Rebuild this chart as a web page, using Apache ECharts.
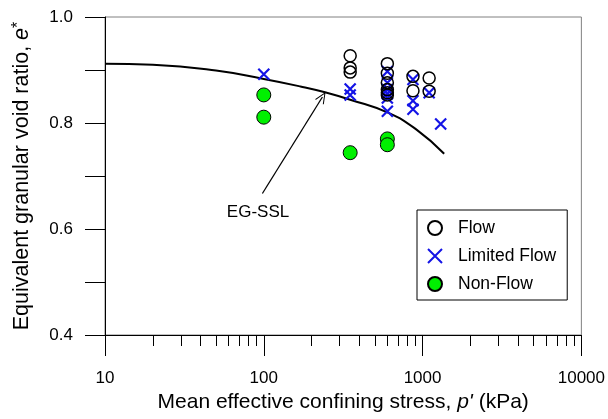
<!DOCTYPE html>
<html>
<head>
<meta charset="utf-8">
<script src="https://cdn.jsdelivr.net/npm/echarts@6/dist/echarts.min.js"></script>
<style>
html, body { margin: 0; padding: 0; background: #fff; }
#chart { width: 608px; height: 419px; }
</style>
</head>
<body>
<div id="chart"></div>
<script>
// values
const flowP = [350, 350, 350, 600, 600, 600, 600, 600, 600, 870, 870, 1100, 1100];
const flowE = [0.927, 0.904, 0.896, 0.912, 0.894, 0.876, 0.863, 0.857, 0.853, 0.888, 0.861, 0.885, 0.860];
const limitedP = [100, 350, 350, 600, 600, 600, 600, 600, 600, 870, 870, 870, 1100, 1300];
const limitedE = [0.892, 0.864, 0.853, 0.897, 0.876, 0.863, 0.855, 0.847, 0.822, 0.882, 0.842, 0.826, 0.857, 0.798];
const nonFlowP = [100, 100, 350, 600, 600];
const nonFlowE = [0.853, 0.811, 0.744, 0.770, 0.759];
const sslP = [10, 20, 50, 100, 170, 243, 350, 610, 920, 1368];
const sslE = [0.912, 0.910, 0.899, 0.883, 0.869, 0.858, 0.844, 0.819, 0.787, 0.742];
const majorTicks = [10, 100, 1000, 10000];
const minorTicks = [20, 30, 40, 50, 60, 70, 80, 90, 200, 300, 400, 500, 600, 700, 800, 900,
    2000, 3000, 4000, 5000, 6000, 7000, 8000, 9000];
const arrowFrom = [98, 0.667];
const arrowTo = [234, 0.849];
const sslLabelAt = [92, 0.631];

const font = 'Liberation Sans, Arial, sans-serif';
const pairs = (xs, ys) => xs.map((x, i) => [x, ys[i]]);

const chart = echarts.init(document.getElementById('chart'));
chart.setOption({
    animation: false,
    textStyle: { fontFamily: font, color: '#000' },
    grid: {
        left: 105, right: 26, top: 17, bottom: 84,
        show: true, borderColor: '#808080', borderWidth: 1
    },
    legend: {
        data: ['Flow', 'Limited Flow', 'Non-Flow'],
        orient: 'vertical',
        left: 417, top: 210,
        padding: [9, 11, 7, 10],
        borderColor: '#000', borderWidth: 1,
        itemWidth: 36, itemHeight: 14, itemGap: 10,
        textStyle: { fontSize: 17.5, fontFamily: font, color: '#000', lineHeight: 16 }
    },
    xAxis: [{
        type: 'log', logBase: 10, min: 10, max: 10000,
        position: 'bottom',
        name: 'Mean effective confining stress, {i|p\'} (kPa)',
        nameLocation: 'middle', nameGap: 52,
        nameTextStyle: { fontSize: 21, fontFamily: font, color: '#000',
            rich: { i: { fontSize: 21, fontStyle: 'italic', fontFamily: font, color: '#000' } } },
        axisLine: { lineStyle: { color: '#000', width: 1 } },
        axisTick: { length: 21, customValues: majorTicks, lineStyle: { color: '#000' } },
        axisLabel: { customValues: majorTicks, margin: 35, fontSize: 17, color: '#000',
            formatter: v => String(Math.round(v)) },
        splitLine: { show: false },
        minorTick: { show: false }
    }, {
        type: 'log', logBase: 10, min: 10, max: 10000,
        position: 'top', offset: -318,
        axisLine: { show: false },
        axisTick: { inside: true, length: 11, customValues: minorTicks, lineStyle: { color: '#000' } },
        axisLabel: { show: false },
        splitLine: { show: false }
    }],
    yAxis: {
        type: 'value', min: 0.4, max: 1.0, interval: 0.1,
        name: 'Equivalent granular void ratio, {i|e}{s|*}',
        nameLocation: 'middle', nameGap: 72,
        nameTextStyle: { fontSize: 21.5, fontFamily: font, color: '#000',
            rich: {
                i: { fontSize: 21.5, fontStyle: 'italic', fontFamily: font, color: '#000' },
                s: { fontSize: 16, fontFamily: font, color: '#000', verticalAlign: 'top' }
            } },
        axisLine: { lineStyle: { color: '#000', width: 1 } },
        axisTick: { length: 20, lineStyle: { color: '#000' } },
        axisLabel: {
            margin: 32, fontSize: 17, color: '#000',
            formatter: v => (Math.round(v * 10) % 2 === 0 ? v.toFixed(1) : '')
        },
        splitLine: { show: false }
    },
    series: [{
        name: 'EG-SSL',
        type: 'line',
        smooth: true,
        showSymbol: false,
        silent: true,
        data: pairs(sslP, sslE),
        lineStyle: { color: '#000', width: 2 },
        z: 1,
        markLine: {
            silent: true,
            symbol: ['none', 'path://M50,0L100,95L92,100L50,20L8,100L0,95Z'],
            symbolSize: [10, 12],
            label: { show: false },
            lineStyle: { color: '#000', width: 1.3, type: 'solid' },
            data: [[{ coord: arrowFrom }, { coord: arrowTo }]]
        },
        markPoint: {
            symbol: 'circle', symbolSize: 1,
            itemStyle: { color: 'transparent' },
            label: { show: true, position: 'inside', formatter: 'EG-SSL',
                fontSize: 17, fontFamily: font, color: '#000' },
            data: [{ coord: sslLabelAt }]
        }
    }, {
        name: 'Flow',
        type: 'scatter',
        symbol: 'circle', symbolSize: 12,
        data: pairs(flowP, flowE),
        itemStyle: { color: 'rgba(0,0,0,0)', borderColor: '#000', borderWidth: 1.5, opacity: 1 },
        z: 3
    }, {
        name: 'Limited Flow',
        type: 'scatter',
        symbol: 'path://M0,0L10,10M10,0L0,10', symbolSize: 11,
        data: pairs(limitedP, limitedE),
        itemStyle: { color: 'rgba(0,0,0,0)', borderColor: '#1414e6', borderWidth: 2.2, opacity: 1 },
        z: 2
    }, {
        name: 'Non-Flow',
        type: 'scatter',
        symbol: 'circle', symbolSize: 14,
        data: pairs(nonFlowP, nonFlowE),
        itemStyle: { color: '#00f000', borderColor: '#000', borderWidth: 1, opacity: 1 },
        z: 4
    }]
});
</script>
</body>
</html>
